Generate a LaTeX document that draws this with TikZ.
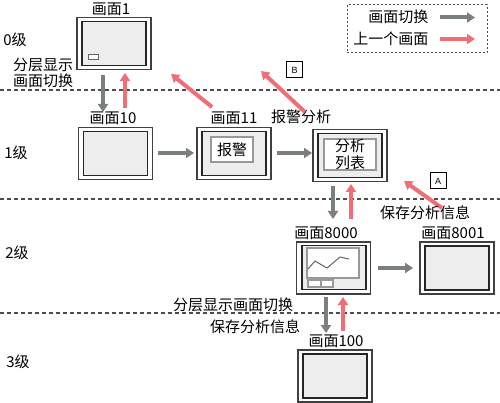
\documentclass[tikz,border=0pt]{standalone}
\usepackage{fontspec}
\setmainfont{Noto Sans CJK SC}
\newfontfamily\latinfont{Liberation Sans}
\usetikzlibrary{arrows.meta}
\definecolor{gogray}{RGB}{122,127,130}
\definecolor{backred}{RGB}{240,110,118}
\definecolor{panelgray}{RGB}{236,237,236}
\tikzset{
  screen/.style={draw=black!75, fill=white, line width=1.5pt, minimum width=74pt, minimum height=52pt, inner sep=0pt},
  panel/.style={draw=black!85, fill=panelgray, line width=1.5pt, minimum width=64pt, minimum height=44pt, inner sep=0pt},
  card/.style={draw=black!40, fill=white, line width=1.2pt, inner sep=0pt},
  go/.style={draw=gogray, line width=4pt, -{Triangle[length=8pt,width=10pt]}},
  back/.style={draw=backred, line width=4pt, -{Triangle[length=8pt,width=10pt]}},
  level/.style={draw=black!70, line width=1.2pt, dash pattern=on 4pt off 3pt},
  tag/.style={draw, line width=1pt, minimum size=16pt, inner sep=0pt, font=\fontsize{9}{9}\selectfont\latinfont},
}
\begin{document}
\begin{tikzpicture}[x=1pt,y=-1pt,font=\fontsize{15}{16}\selectfont]
\useasboundingbox (0,0) rectangle (500,403);
% level borders
\draw[level] (0,90) -- (500,90);
\draw[level] (0,199) -- (500,199);
\draw[level] (0,313) -- (500,313);
\node (lv0) at (15,40) {0级};
\node (lv1) at (16,153) {1级};
\node (lv2) at (17,253) {2级};
\node (lv3) at (18,362) {3级};
% legend
\draw[draw=black!70, line width=1pt, dash pattern=on 2pt off 2pt] (347,5) rectangle (487,53);
\node[anchor=east] (lgo) at (432,17) {画面切换};
\node[anchor=east] (lback) at (432,39) {上一个画面};
\coordinate (lgos) at (440,17.5);
\coordinate (lgoe) at (475,17.5);
\coordinate (lbacks) at (440,39);
\coordinate (lbacke) at (475,39);
\draw[go] (lgos) -- (lgoe);
\draw[back] (lbacks) -- (lbacke);
% screens
\node[screen] (s1) at (114,43.5) {};
\node[panel] (s1p) at (s1) {};
\node[draw=black!60, fill=white, line width=1pt, minimum width=10pt, minimum height=5pt, inner sep=0pt] (s1btn) at (93.5,57) {};
\node (t1) at (111,9) {画面1};
\node[screen] (s10) at (115.5,153.5) {};
\node[panel] (s10p) at (s10) {};
\node (t10) at (113,118) {画面10};
\node[screen] (s11) at (234,153.5) {};
\node[panel] (s11p) at (s11) {};
\node[card, minimum width=42pt, minimum height=25pt] (alarm) at (232,149.5) {报警};
\node (t11) at (234,118) {画面11};
\node[screen] (slist) at (350,155.5) {};
\node[panel] (slistp) at (slist) {};
\node[card, minimum width=52pt, minimum height=31pt, align=center, font=\fontsize{15}{17}\selectfont] (list) at (350,154.5) {分析\\列表};
\node (tlist) at (301,117) {报警分析};
\node[screen] (s8000) at (333.5,268) {};
\node[panel] (s8000p) at (334,267.5) {};
\node[card, minimum width=52pt, minimum height=30pt] (chart) at (333,263) {};
\draw[black!60, line width=1pt] (308,269) -- (315,261) -- (327,268) -- (340,257) -- (349,259);
\draw[card] (308,280) rectangle (321,287);
\draw[card] (321,280) rectangle (333,287);
\node (t8000) at (326,233) {画面8000};
\node[screen] (s8001) at (457,268) {};
\node[panel] (s8001p) at (s8001) {};
\node (t8001) at (453,233) {画面8001};
\node[screen] (s100) at (335,376) {};
\node[panel] (s100p) at (s100) {};
\node (t100) at (336,341) {画面100};
% texts
\node[align=center] (sw0) at (43,73) {分层显示\\画面切换};
\node (sw2) at (233,305) {分层显示画面切换};
\node (save2) at (255,327) {保存分析信息};
\node[tag] (tagB) at (294.5,70) {B};
\node[tag] (tagA) at (438,181) {A};
% arrows
\coordinate (d1s) at (103,75);
\coordinate (d1e) at (103,112);
\coordinate (u1s) at (125,108);
\coordinate (u1e) at (125,73);
\coordinate (u2s) at (212,107);
\coordinate (u2e) at (171,74);
\coordinate (u3s) at (305,112);
\coordinate (u3e) at (261,71);
\coordinate (r1s) at (158,153);
\coordinate (r1e) at (194,153);
\coordinate (r2s) at (277,153);
\coordinate (r2e) at (312,153);
\coordinate (d2s) at (333,186);
\coordinate (d2e) at (333,219);
\coordinate (u4s) at (351,219);
\coordinate (u4e) at (351,184);
\coordinate (u5s) at (442,208);
\coordinate (u5e) at (404,181);
\coordinate (r3s) at (378,268);
\coordinate (r3e) at (413,268);
\coordinate (d3s) at (326,297);
\coordinate (d3e) at (326,333);
\coordinate (u6s) at (343,331);
\coordinate (u6e) at (343,297);
\draw[go] (d1s) -- (d1e);
\draw[back] (u1s) -- (u1e);
\draw[back] (u2s) -- (u2e);
\draw[back] (u3s) -- (u3e);
\draw[go] (r1s) -- (r1e);
\draw[go] (r2s) -- (r2e);
\draw[go] (d2s) -- (d2e);
\draw[back] (u4s) -- (u4e);
\draw[back] (u5s) -- (u5e);
\draw[go] (r3s) -- (r3e);
\draw[go] (d3s) -- (d3e);
\draw[back] (u6s) -- (u6e);
\node (save1) at (425,213) {保存分析信息};
\end{tikzpicture}
\end{document}
